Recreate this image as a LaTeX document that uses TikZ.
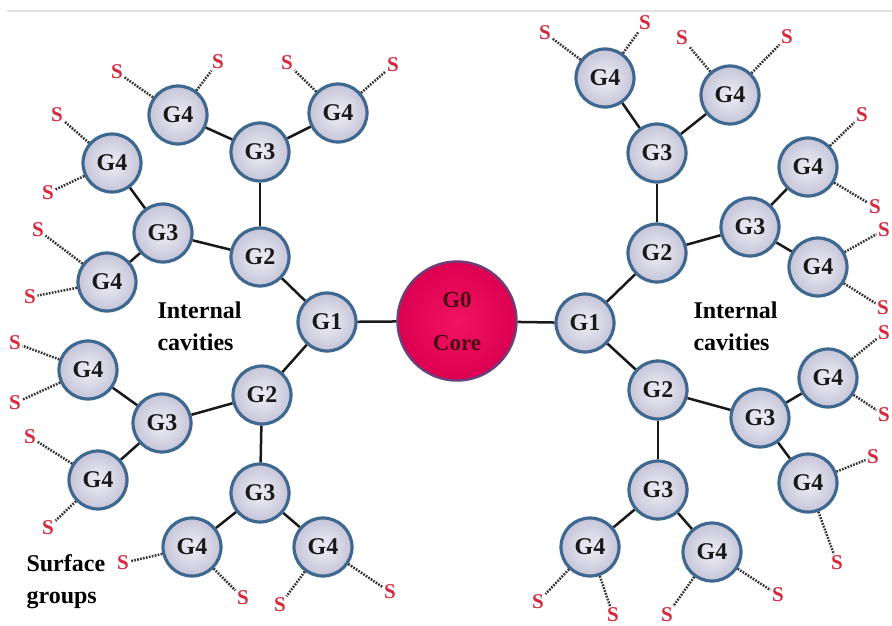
\documentclass[tikz,border=0pt]{standalone}
\usepackage{fontspec}
\setmainfont{Liberation Serif}
\definecolor{gborder}{HTML}{3F6890}
\definecolor{gin}{HTML}{EFEEF5}
\definecolor{gout}{HTML}{C6C5D9}
\definecolor{corein}{HTML}{F01462}
\definecolor{coreout}{HTML}{DC0050}
\definecolor{coreborder}{HTML}{6D3F78}
\definecolor{coretext}{HTML}{4A0A14}
\definecolor{sred}{HTML}{D42A3C}
\definecolor{frame}{HTML}{E2E2E2}
\tikzset{
  gen/.style={circle, draw=gborder, line width=3.2pt, inner color=gin, outer color=gout,
    minimum size=58pt, inner sep=0pt, text=black!90,
    font=\fontsize{24}{24}\selectfont\bfseries},
  core/.style={circle, draw=coreborder, line width=2.4pt, inner color=corein, outer color=coreout,
    minimum size=119pt, inner sep=0pt, align=center, text=coretext,
    font=\fontsize{23}{43}\selectfont\bfseries},
  surf/.style={text=sred, inner sep=1.5pt, font=\fontsize{21}{21}\selectfont\bfseries},
  bond/.style={line width=2.5pt, draw=black!90},
  dots/.style={line width=2.5pt, draw=black!80, dash pattern=on 1.7pt off 1.3pt},
  caption/.style={anchor=west, align=left, font=\fontsize{24}{32}\selectfont\bfseries}
}
\begin{document}
\begin{tikzpicture}[x=1pt, y=-1pt]
\useasboundingbox (0,0) rectangle (892,626);
\fill[white] (0,0) rectangle (892,626);
\draw[frame, line width=1.5pt] (7,11) -- (892,11);

% core
\node[core] (G0) at (457,321) {G0\\Core};

% left dendron
\node[gen] (L1)  at (327,322) {G1};
\node[gen] (L2a) at (260,257) {G2};
\node[gen] (L2b) at (262,395) {G2};
\node[gen] (L3a) at (260,152) {G3};
\node[gen] (L3b) at (163,233) {G3};
\node[gen] (L3c) at (162,423) {G3};
\node[gen] (L3d) at (260,493) {G3};
\node[gen] (L4a) at (178,115) {G4};
\node[gen] (L4b) at (338,113) {G4};
\node[gen] (L4c) at (112,163) {G4};
\node[gen] (L4d) at (107,282) {G4};
\node[gen] (L4e) at (88,370)  {G4};
\node[gen] (L4f) at (98,480)  {G4};
\node[gen] (L4g) at (192,547) {G4};
\node[gen] (L4h) at (323,547) {G4};

% right dendron
\node[gen] (R1)  at (585,323) {G1};
\node[gen] (R2a) at (657,253) {G2};
\node[gen] (R2b) at (658,390) {G2};
\node[gen] (R3a) at (657,153) {G3};
\node[gen] (R3b) at (750,227) {G3};
\node[gen] (R3c) at (760,418) {G3};
\node[gen] (R3d) at (658,490) {G3};
\node[gen] (R4a) at (605,78)  {G4};
\node[gen] (R4b) at (730,95)  {G4};
\node[gen] (R4c) at (808,167) {G4};
\node[gen] (R4d) at (818,267) {G4};
\node[gen] (R4e) at (828,378) {G4};
\node[gen] (R4f) at (808,483) {G4};
\node[gen] (R4g) at (590,547) {G4};
\node[gen] (R4h) at (712,552) {G4};

% bonds between generations
\foreach \a/\b in {G0/L1, L1/L2a, L1/L2b, L2a/L3a, L2a/L3b, L2b/L3c, L2b/L3d,
  L3a/L4a, L3a/L4b, L3b/L4c, L3b/L4d, L3c/L4e, L3c/L4f, L3d/L4g, L3d/L4h,
  G0/R1, R1/R2a, R1/R2b, R2a/R3a, R2a/R3b, R2b/R3c, R2b/R3d,
  R3a/R4a, R3a/R4b, R3b/R4c, R3b/R4d, R3c/R4e, R3c/R4f, R3d/R4g, R3d/R4h}
  \draw[bond] (\a) -- (\b);

% surface groups
\foreach \g/\n/\x/\y in {
  L4a/1/117/72,  L4a/2/218/62,  L4b/3/287/63,  L4b/4/393/65,
  L4c/5/57/115,  L4c/6/48/193,  L4d/7/38/230,  L4d/8/30/297,
  L4e/9/15/343,  L4e/10/15/403, L4f/11/30/437, L4f/12/48/528,
  L4g/13/123/563, L4g/14/243/598, L4h/15/280/605, L4h/16/390/592,
  R4a/17/545/33, R4a/18/645/23, R4b/19/682/38, R4b/20/787/37,
  R4c/21/862/115, R4c/22/875/207, R4d/23/884/230, R4d/24/883/308,
  R4e/25/884/333, R4e/26/884/415, R4f/27/873/457, R4f/28/837/563,
  R4g/29/538/602, R4g/30/613/615, R4h/31/667/615, R4h/32/778/595}
{
  \node[surf] (S\n) at (\x,\y) {S};
  \draw[dots] (\g) -- (S\n);
}

% captions
\node[caption] (capL) at (154,326) {Internal\\cavities};
\node[caption] (capR) at (690,326) {Internal\\cavities};
\node[caption] (capS) at (23,582) {Surface\\groups};
\end{tikzpicture}
\end{document}
